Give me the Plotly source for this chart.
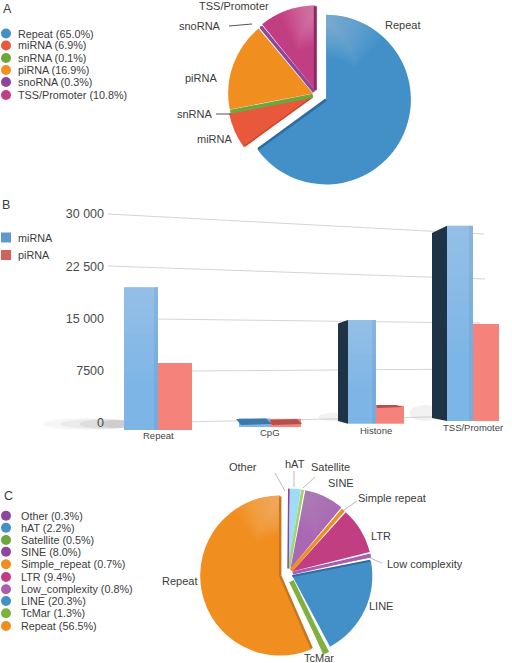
import math
import plotly.graph_objects as go

# ---------- data ----------
a_labels = ["Repeat", "miRNA", "snRNA", "piRNA", "snoRNA", "TSS/Promoter"]
a_values = [65.0, 6.9, 0.1, 16.9, 0.3, 10.8]
a_colors = ["#4390c8", "#e9583a", "#6fa53d", "#f18e20", "#8d45a0", "#c23e82"]
a_pull = [0.12, 0.06, 0.05, 0.05, 0.05, 0.06]

b_categories = ["Repeat", "CpG", "Histone", "TSS/Promoter"]
b_mirna = [19500, 650, 14800, 28300]
b_pirna = [8600, 600, 2400, 14200]
b_ticks = [0, 7500, 15000, 22500, 30000]
b_ticktext = ["0", "7500", "15 000", "22 500", "30 000"]

c_labels = ["Other", "hAT", "Satellite", "SINE", "Simple_repeat", "LTR",
            "Low_complexity", "LINE", "TcMar", "Repeat"]
c_values = [0.3, 2.2, 0.5, 8.0, 0.7, 9.4, 0.8, 20.3, 1.3, 56.5]
c_colors = ["#8d45a0", "#9fdcf6", "#a6d36c", "#a868b4", "#f18e20", "#c23e82",
            "#a95fb0", "#4390c8", "#7fb13f", "#f18e20"]
c_legend_colors = ["#8d45a0", "#4390c8", "#6fa53d", "#8d45a0", "#f18e20", "#c23e82",
                   "#a95fb0", "#4390c8", "#7fb13f", "#f18e20"]
c_pull = [0.07, 0.07, 0.07, 0.07, 0.06, 0.06, 0.06, 0.06, 0.1, 0.1]

# ---------- layout constants (pixels of the 512x663 page) ----------
W, H = 512, 663
FONT = "Liberation Sans"
TXT = "#3c3c3c"
xp = lambda x: x / W
yp = lambda y: 1 - y / H

# bar geometry in the perspective view
cat_x = [158, 270, 376, 473]
bar_w = [34, 31, 28, 26]
floor = [-1000, -570, -100, 300]
depth = [0, 0, 10, 15]
cat_label_y = [435, 432, 430, 427]

Y0_PX, Y30K_PX = 423, 214
px_per_unit = (Y0_PX - Y30K_PX) / 30000
y_of = lambda px: (Y0_PX - px) / px_per_unit
B_TOP, B_BOT = 190, 445

fig = go.Figure()

# Panel A pie
cx_a, cy_a, half_a = 317, 95, 95
r_a = half_a / (1 + max(a_pull))
fig.add_trace(go.Pie(labels=a_labels, values=a_values, sort=False, direction="clockwise",
                     rotation=0, pull=a_pull, textinfo="none", hoverinfo="label+percent",
                     marker=dict(colors=a_colors, line=dict(width=0)),
                     domain=dict(x=[xp(cx_a - half_a), xp(cx_a + half_a)],
                                 y=[yp(cy_a + half_a), yp(cy_a - half_a)]),
                     showlegend=False))

# Panel C pie
cx_c, cy_c, half_c = 288, 574, 88
r_c = half_c / (1 + max(c_pull))
fig.add_trace(go.Pie(labels=c_labels, values=c_values, sort=False, direction="clockwise",
                     rotation=0, pull=c_pull, textinfo="none", hoverinfo="label+percent",
                     marker=dict(colors=c_colors, line=dict(width=0)),
                     domain=dict(x=[xp(cx_c - half_c), xp(cx_c + half_c)],
                                 y=[yp(cy_c + half_c), yp(cy_c - half_c)]),
                     showlegend=False))

# Panel B bars
fig.add_trace(go.Bar(x=cat_x, y=[v - f for v, f in zip(b_mirna, floor)], base=floor,
                     width=bar_w, offset=[-w for w in bar_w], name="miRNA",
                     marker=dict(color="#7db5e6", line=dict(width=0)), showlegend=False))
fig.add_trace(go.Bar(x=cat_x, y=[v - f for v, f in zip(b_pirna, floor)], base=floor,
                     width=bar_w, offset=0, name="piRNA",
                     marker=dict(color="#f5837c", line=dict(width=0)), showlegend=False))

shapes = []


def line(x0, y0, x1, y1, color="#d4d4d4", width=1, layer="below"):
    shapes.append(dict(type="line", xref="paper", yref="paper", x0=xp(x0), y0=yp(y0),
                       x1=xp(x1), y1=yp(y1), line=dict(color=color, width=width), layer=layer))


def poly(points, color, opacity=1.0):
    d = "M " + " L ".join(f"{xp(x)} {yp(y)}" for x, y in points) + " Z"
    shapes.append(dict(type="path", xref="paper", yref="paper", path=d, layer="above",
                       fillcolor=color, opacity=opacity, line=dict(width=0)))


def pie_tools(cx, cy, r, values, pulls):
    total = sum(values)
    starts, acc = [], 0.0
    for v in values:
        starts.append(acc / total * 360)
        acc += v
    spans = [v / total * 360 for v in values]

    def apex(i):
        mid = math.radians(starts[i] + spans[i] / 2)
        return cx + pulls[i] * r * math.sin(mid), cy - pulls[i] * r * math.cos(mid)

    def spoke(i, frac, color, width, reach=0.99):
        ax, ay = apex(i)
        t = math.radians(starts[i] + frac * spans[i])
        line(ax, ay, ax + reach * r * math.sin(t), ay - reach * r * math.cos(t), color, width, "above")

    def sheen(i, bright_edge, span, steps=20, op=0.018):
        """Smooth light patch inside slice i, fading away from the bright edge."""
        ax, ay = apex(i)
        a0 = starts[i] + bright_edge * spans[i]
        sign = 1 if bright_edge == 0 else -1
        for k in range(steps):
            end = a0 + sign * span * (1 - k / steps)
            inner = r * (0.5 + 0.4 * k / steps)
            n = 14
            angs = [a0 + (end - a0) * j / n for j in range(n + 1)]
            pts = [(ax + r * math.sin(math.radians(t)), ay - r * math.cos(math.radians(t))) for t in angs]
            pts += [(ax + inner * math.sin(math.radians(t)), ay - inner * math.cos(math.radians(t)))
                    for t in reversed(angs)]
            poly(pts, "#ffffff", op)

    return spoke, sheen


# sloped perspective grid lines
line(108, 214, 484, 234)
line(108, 266, 485, 279)
line(155, 319, 480, 323)
line(190, 371, 480, 369)
line(130, 423, 480, 416)

# soft floor shadows
for x0, hh, op in [(42, 6, 0.05), (60, 5, 0.08), (80, 4.5, 0.10), (100, 4, 0.12)]:
    shapes.append(dict(type="circle", xref="paper", yref="paper", layer="below",
                       x0=xp(x0), x1=xp(135), y0=yp(424 + hh), y1=yp(424 - hh),
                       fillcolor="#666666", opacity=op, line=dict(width=0)))
for x0, x1, y0, y1 in [(318, 350, 413, 421), (410, 440, 405, 421)]:
    shapes.append(dict(type="circle", xref="paper", yref="paper", layer="below",
                       x0=xp(x0), x1=xp(x1), y0=yp(y1), y1=yp(y0),
                       fillcolor="#808080", opacity=0.10, line=dict(width=0)))

# dark side faces of the bars
for i, d in enumerate(depth):
    if d:
        left = cat_x[i] - bar_w[i]
        v, f = b_mirna[i], floor[i]
        path = (f"M {left} {v} L {left - d} {v - 0.036 * v} "
                f"L {left - d} {f + 400} L {left} {f} Z")
        shapes.append(dict(type="path", xref="x", yref="y", path=path, layer="above",
                           fillcolor="#1f3347", line=dict(width=0)))

# light vertical sheen on tall bars
for i, v in enumerate(b_mirna):
    if v > 2000:
        n = 10
        f = floor[i]
        for k in range(n):
            shapes.append(dict(type="rect", xref="x", yref="y", layer="above",
                               x0=cat_x[i] - bar_w[i], x1=cat_x[i],
                               y0=f + (v - f) * (0.35 + 0.065 * k), y1=v,
                               fillcolor="#ffffff", opacity=0.025, line=dict(width=0)))
        shapes.append(dict(type="rect", xref="x", yref="y", layer="above",
                           x0=cat_x[i] - 4, x1=cat_x[i], y0=floor[i], y1=v,
                           fillcolor="#3d6f9e", opacity=0.12, line=dict(width=0)))

# top faces of the low bars
poly([(236, 419), (266, 418.5), (272, 424), (241, 425)], "#3c78a8")
poly([(270, 420), (297, 419), (302, 424), (272, 425)], "#b4504c")
poly([(376, 405), (396, 405), (404, 407), (377, 408)], "#b4504c")

# extruded edges and light patches of the pie slices (panel A)
spoke_a, sheen_a = pie_tools(cx_a, cy_a, r_a, a_values, a_pull)
sheen_a(0, 0, 42)
sheen_a(5, 1, 25)
spoke_a(0, 1, "#2f6c9e", 2.5)
spoke_a(5, 1, "#8a2a5e", 3)
spoke_a(1, 0, "#c7472c", 1.5)
spoke_a(2, 0.5, "#6fa53d", 4)
spoke_a(4, 0.5, "#8d45a0", 3.5)

# extruded edges and light patches of the pie slices (panel C)
spoke_c, sheen_c = pie_tools(cx_c, cy_c, r_c, c_values, c_pull)
sheen_c(9, 1, 35)
sheen_c(3, 0, 28, op=0.012)
spoke_c(9, 1, "#c9761a", 2.5)
spoke_c(9, 0, "#c9761a", 2.5)
spoke_c(8, 0.5, "#7fb13f", 5)
spoke_c(7, 0, "#2f6c9e", 2)
spoke_c(4, 0.5, "#f18e20", 3.5)
spoke_c(6, 0.5, "#a95fb0", 3)
spoke_c(2, 0.5, "#a6d36c", 2.5)
spoke_c(0, 0.5, "#8d45a0", 1.5)

# leader lines of the pies
line(229, 26, 252, 24, "#555555", 1, "above")
line(216, 114, 231, 114, "#555555", 1, "above")
line(275, 473, 285, 491, "#bbbbbb", 1, "above")
line(294, 471, 294, 487, "#bbbbbb", 1, "above")
line(315, 477, 303, 488, "#bbbbbb", 1, "above")
line(357, 501, 344, 510, "#bbbbbb", 1, "above")
line(382, 563, 370, 558, "#bbbbbb", 1, "above")

annotations = []


def label(x, y, text, size=11, anchor="center", color=TXT):
    annotations.append(dict(x=xp(x), y=yp(y), xref="paper", yref="paper", text=text,
                            showarrow=False, xanchor=anchor, yanchor="middle",
                            font=dict(family=FONT, size=size, color=color)))


def dot(x, y, color, size=5):
    shapes.append(dict(type="circle", xref="paper", yref="paper", layer="above",
                       x0=xp(x - size), x1=xp(x + size), y0=yp(y + size), y1=yp(y - size),
                       fillcolor=color, line=dict(width=0)))


# panel letters
label(7, 9, "A", 12.5)
label(6, 205, "B", 12.5)
label(8, 496, "C", 12.5)

# legend A
a_leg_y = [33.5, 45.5, 58, 70, 82, 95]
for name, val, col, y in zip(a_labels, a_values, a_colors, a_leg_y):
    dot(6, y, col)
    label(16, y, f"{name} ({val:.1f}%)", 10.8, "left")

# legend B
for name, col, y in [("miRNA", "#5f97d0", 237.5), ("piRNA", "#d2625c", 255)]:
    shapes.append(dict(type="rect", xref="paper", yref="paper", layer="above",
                       x0=xp(1), x1=xp(11), y0=yp(y + 5), y1=yp(y - 5),
                       fillcolor=col, line=dict(width=0)))
    label(16, y, name, 10.8, "left")

# legend C
c_leg_y = [515.7, 527.7, 540, 551.7, 564.3, 577, 589.3, 601, 613.3, 626]
for name, val, col, y in zip(c_labels, c_values, c_legend_colors, c_leg_y):
    dot(6, y, col)
    label(19, y, f"{name} ({val:.1f}%)", 10.8, "left")

# pie A labels
for (x, y), t in zip([(402, 25), (214, 139), (195, 114), (201, 78), (200, 26), (234, 6)], a_labels):
    label(x, y, t)

# pie C labels
c_label_pos = [(243, 467), (295, 464), (330, 467), (341, 483), (392, 498), (381, 536),
               (425, 564), (381, 606), (319, 658), (179, 581)]
for (x, y), t in zip(c_label_pos, c_labels):
    label(x, y, t.replace("_", " "))

# bar category labels
for x, y, t in zip(cat_x, cat_label_y, b_categories):
    annotations.append(dict(x=x, y=y_of(y), xref="x", yref="y", text=t, showarrow=False,
                            xanchor="center", yanchor="middle",
                            font=dict(family=FONT, size=9.5, color="#444444")))

fig.update_layout(
    width=W, height=H, margin=dict(l=0, r=0, t=0, b=0, autoexpand=False),
    paper_bgcolor="white", plot_bgcolor="rgba(0,0,0,0)", barmode="overlay", showlegend=False,
    shapes=shapes, annotations=annotations,
    xaxis=dict(domain=[xp(106), 1], range=[106, W], showgrid=False, zeroline=False,
               showline=False, showticklabels=False, ticks="", fixedrange=True),
    yaxis=dict(domain=[yp(B_BOT), yp(B_TOP)], range=[y_of(B_BOT), y_of(B_TOP)],
               tickvals=b_ticks, ticktext=b_ticktext, showgrid=False, zeroline=False,
               showline=False, ticks="", ticklabelstandoff=1, fixedrange=True,
               tickfont=dict(family=FONT, size=12.5, color="#4a4a4a")),
)

fig.write_html("out.html", config=dict(displayModeBar=False),
               post_script="document.body.style.margin='0';document.body.style.overflow='hidden';")
